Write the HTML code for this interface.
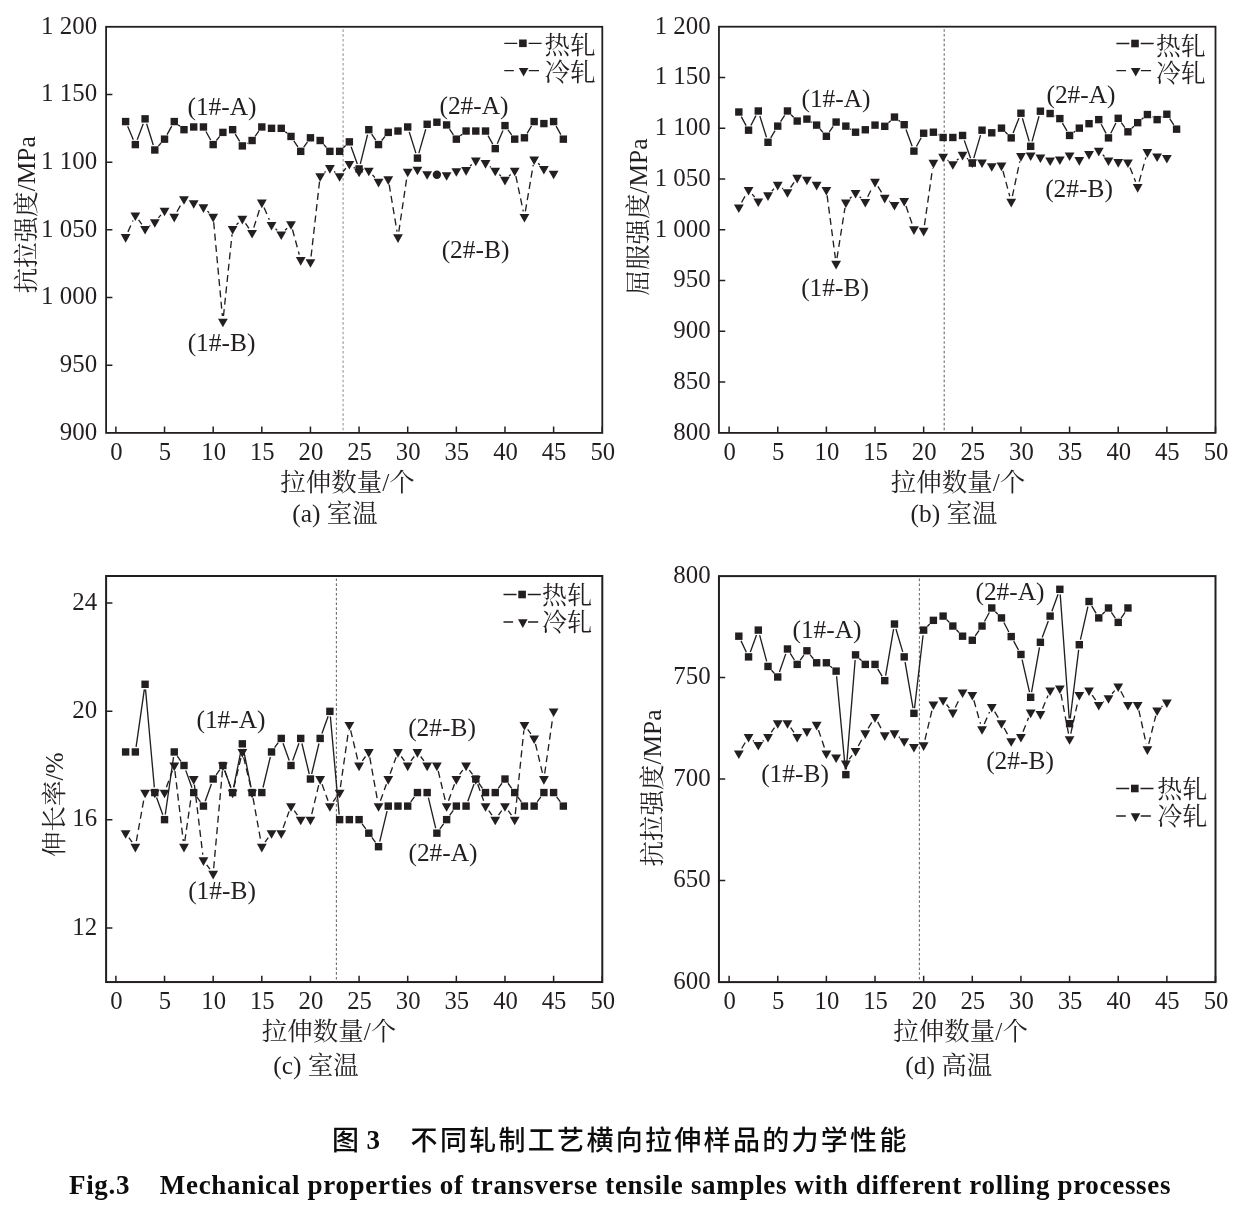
<!DOCTYPE html>
<html lang="zh">
<head>
<meta charset="utf-8">
<title>图 3 不同轧制工艺横向拉伸样品的力学性能</title>
<style>html,body{margin:0;padding:0;background:#fff}svg{display:block;will-change:transform}</style>
</head>
<body>
<svg width="1238" height="1208" viewBox="0 0 1238 1208" font-family='"Liberation Serif", "Noto Serif CJK SC", serif' fill="#231f20">
<line x1="343.1" y1="29.3" x2="343.1" y2="431.9" stroke="#999" stroke-width="1.1" stroke-dasharray="2.6 2.2"/>
<rect x="106.1" y="26.8" width="496.2" height="406.1" fill="none" stroke="#231f20" stroke-width="1.8"/>
<path d="M115.9 432.9v-6.3M164.54 432.9v-6.3M213.17 432.9v-6.3M261.81 432.9v-6.3M310.44 432.9v-6.3M359.08 432.9v-6.3M407.71 432.9v-6.3M456.35 432.9v-6.3M504.98 432.9v-6.3M553.62 432.9v-6.3M602.25 432.9v-6.3M106.1 365.22h6.3M106.1 297.53h6.3M106.1 229.85h6.3M106.1 162.17h6.3M106.1 94.48h6.3" fill="none" stroke="#231f20" stroke-width="1.5"/>
<text x="116.4" y="460.1" font-size="24.7" text-anchor="middle">0</text>
<text x="165.04" y="460.1" font-size="24.7" text-anchor="middle">5</text>
<text x="213.67" y="460.1" font-size="24.7" text-anchor="middle">10</text>
<text x="262.31" y="460.1" font-size="24.7" text-anchor="middle">15</text>
<text x="310.94" y="460.1" font-size="24.7" text-anchor="middle">20</text>
<text x="359.58" y="460.1" font-size="24.7" text-anchor="middle">25</text>
<text x="408.21" y="460.1" font-size="24.7" text-anchor="middle">30</text>
<text x="456.85" y="460.1" font-size="24.7" text-anchor="middle">35</text>
<text x="505.48" y="460.1" font-size="24.7" text-anchor="middle">40</text>
<text x="554.12" y="460.1" font-size="24.7" text-anchor="middle">45</text>
<text x="602.75" y="460.1" font-size="24.7" text-anchor="middle">50</text>
<text x="97.1" y="372.02" font-size="24.9" text-anchor="end">950</text>
<text x="97.1" y="304.33" font-size="24.9" text-anchor="end">1 000</text>
<text x="97.1" y="236.65" font-size="24.9" text-anchor="end">1 050</text>
<text x="97.1" y="168.97" font-size="24.9" text-anchor="end">1 100</text>
<text x="97.1" y="101.28" font-size="24.9" text-anchor="end">1 150</text>
<path d="M127.92 231.88L133.06 220.43M138.62 219.87L141.81 224.31M149.68 225.66L150.21 225.29M158.42 217.82L160.92 214.86M176.97 211.78L181.28 203.98M207.45 211.11L209.16 212.77M213.69 222.25L222.38 316.01M223.48 316.02L232.04 234.43M236.5 224.82L238.48 222.75M245.51 223.33L248.92 228.3M253.78 227.59L260.1 207.8M264.04 207.6L269.3 219.67M275.54 228.71L277.25 230.37M285.13 230.23L287.11 228.17M292.45 229.53L299.25 254.59M311.07 256.46L319.54 181.63M324.47 172.48L325.6 171.54M334.19 171.54L335.32 172.48M343.12 171.69L345.85 168.26M353.74 167.37L354.69 168.12M372.49 174.87L374.84 177.54M389.18 184.71L397.06 231.73M398.8 231.72L406.89 177.14M470.08 166.07L471.79 164.41M489.91 166.42L490.87 167.17M499.35 174.47L500.88 175.9M509.08 175.9L510.61 174.47M515.86 176.13L523.28 211.33M525.37 211.29L533.23 164.94M538.17 163.33L539.88 164.99" fill="none" stroke="#231f20" stroke-width="1.35" stroke-dasharray="7 4.4"/>
<path d="M127.65 126.35L133.33 139.78M137.19 139.71L143.24 123.71M146.63 123.81L153.26 145.02M158.28 146.12L161.06 143.02M167.05 134.6L171.75 126.11M178.25 124.89L180 126.35M205.96 131.52L210.65 140.02M216.41 140.51L219.65 136.45M235.3 134.14L239.68 141.46M246.89 143.39L247.53 143.04M255.11 136.29L258.77 131.19M285.25 131.66L286.99 133.11M293.83 140.8L297.87 146.98M303.75 147.11L307.41 142.02M323.64 144.38L326.42 147.47M343.35 147.71L345.62 145.49M351.11 146.76L357.32 164.04M360.33 163.89L367.55 134.73M371.65 134.03L375.69 140.22M381.77 140.51L385.01 136.45M409.26 131.93L415.89 153.14M418.87 153.11L425.73 129.26M449.55 129.23L453.41 134.86M460.34 135.82L462.08 134.37M488.04 135.58L492.74 144.08M497.28 143.84L502.96 130.41M508.01 129.84L511.67 134.93M527.11 133.34L531.49 126.02M556.13 126.11L560.83 134.6" fill="none" stroke="#231f20" stroke-width="1.35"/>
<g fill="#231f20">
<path d="M120.73 234.08L130.53 234.08L125.63 242.68Z"/>
<path d="M130.45 212.43L140.25 212.43L135.35 221.03Z"/>
<path d="M140.18 225.96L149.98 225.96L145.08 234.56Z"/>
<path d="M149.91 219.19L159.71 219.19L154.81 227.79Z"/>
<path d="M159.64 207.69L169.44 207.69L164.54 216.29Z"/>
<path d="M169.36 213.78L179.16 213.78L174.26 222.38Z"/>
<path d="M179.09 196.18L188.89 196.18L183.99 204.78Z"/>
<path d="M188.82 200.24L198.62 200.24L193.72 208.84Z"/>
<path d="M198.54 204.3L208.34 204.3L203.44 212.9Z"/>
<path d="M208.27 213.78L218.07 213.78L213.17 222.38Z"/>
<path d="M218 318.69L227.8 318.69L222.9 327.29Z"/>
<path d="M227.72 225.96L237.52 225.96L232.62 234.56Z"/>
<path d="M237.45 215.81L247.25 215.81L242.35 224.41Z"/>
<path d="M247.18 230.02L256.98 230.02L252.08 238.62Z"/>
<path d="M256.91 199.57L266.7 199.57L261.81 208.17Z"/>
<path d="M266.63 221.9L276.43 221.9L271.53 230.5Z"/>
<path d="M276.36 231.38L286.16 231.38L281.26 239.98Z"/>
<path d="M286.09 221.22L295.89 221.22L290.99 229.82Z"/>
<path d="M295.81 257.1L305.61 257.1L300.71 265.7Z"/>
<path d="M305.54 259.13L315.34 259.13L310.44 267.73Z"/>
<path d="M315.27 173.17L325.07 173.17L320.17 181.77Z"/>
<path d="M324.99 165.05L334.79 165.05L329.89 173.65Z"/>
<path d="M334.72 173.17L344.52 173.17L339.62 181.77Z"/>
<path d="M344.45 160.99L354.25 160.99L349.35 169.59Z"/>
<path d="M354.18 168.7L363.98 168.7L359.08 177.3Z"/>
<path d="M363.9 167.75L373.7 167.75L368.8 176.35Z"/>
<path d="M373.63 178.85L383.43 178.85L378.53 187.45Z"/>
<path d="M383.36 176.28L393.16 176.28L388.26 184.88Z"/>
<path d="M393.08 234.35L402.88 234.35L397.98 242.95Z"/>
<path d="M402.81 168.7L412.61 168.7L407.71 177.3Z"/>
<path d="M412.54 166.67L422.34 166.67L417.44 175.27Z"/>
<path d="M422.26 171.14L432.06 171.14L427.16 179.74Z"/>
<circle cx="436.89" cy="174.72" r="4.2"/>
<path d="M441.72 172.22L451.52 172.22L446.62 180.82Z"/>
<path d="M451.45 168.16L461.25 168.16L456.35 176.76Z"/>
<path d="M461.17 167.08L470.97 167.08L466.07 175.68Z"/>
<path d="M470.9 157.6L480.7 157.6L475.8 166.2Z"/>
<path d="M480.63 160.04L490.43 160.04L485.53 168.64Z"/>
<path d="M490.35 167.75L500.15 167.75L495.25 176.35Z"/>
<path d="M500.08 176.82L509.88 176.82L504.98 185.42Z"/>
<path d="M509.81 167.75L519.61 167.75L514.71 176.35Z"/>
<path d="M519.53 213.91L529.33 213.91L524.43 222.51Z"/>
<path d="M529.26 156.52L539.06 156.52L534.16 165.12Z"/>
<path d="M538.99 165.99L548.79 165.99L543.89 174.59Z"/>
<path d="M548.72 170.73L558.51 170.73L553.62 179.33Z"/>
<rect x="121.93" y="117.86" width="7.4" height="7.4"/>
<rect x="131.65" y="140.87" width="7.4" height="7.4"/>
<rect x="141.38" y="115.15" width="7.4" height="7.4"/>
<rect x="151.11" y="146.28" width="7.4" height="7.4"/>
<rect x="160.84" y="135.45" width="7.4" height="7.4"/>
<rect x="170.56" y="117.86" width="7.4" height="7.4"/>
<rect x="180.29" y="125.98" width="7.4" height="7.4"/>
<rect x="190.02" y="123.27" width="7.4" height="7.4"/>
<rect x="199.74" y="123.27" width="7.4" height="7.4"/>
<rect x="209.47" y="140.87" width="7.4" height="7.4"/>
<rect x="219.2" y="128.69" width="7.4" height="7.4"/>
<rect x="228.92" y="125.98" width="7.4" height="7.4"/>
<rect x="238.65" y="142.22" width="7.4" height="7.4"/>
<rect x="248.38" y="136.81" width="7.4" height="7.4"/>
<rect x="258.11" y="123.27" width="7.4" height="7.4"/>
<rect x="267.83" y="124.62" width="7.4" height="7.4"/>
<rect x="277.56" y="124.62" width="7.4" height="7.4"/>
<rect x="287.29" y="132.75" width="7.4" height="7.4"/>
<rect x="297.01" y="147.64" width="7.4" height="7.4"/>
<rect x="306.74" y="134.1" width="7.4" height="7.4"/>
<rect x="316.47" y="136.81" width="7.4" height="7.4"/>
<rect x="326.19" y="147.64" width="7.4" height="7.4"/>
<rect x="335.92" y="147.64" width="7.4" height="7.4"/>
<rect x="345.65" y="138.16" width="7.4" height="7.4"/>
<rect x="355.38" y="165.24" width="7.4" height="7.4"/>
<rect x="365.1" y="125.98" width="7.4" height="7.4"/>
<rect x="374.83" y="140.87" width="7.4" height="7.4"/>
<rect x="384.56" y="128.69" width="7.4" height="7.4"/>
<rect x="394.28" y="127.33" width="7.4" height="7.4"/>
<rect x="404.01" y="123.27" width="7.4" height="7.4"/>
<rect x="413.74" y="154.41" width="7.4" height="7.4"/>
<rect x="423.46" y="120.56" width="7.4" height="7.4"/>
<rect x="433.19" y="118.53" width="7.4" height="7.4"/>
<rect x="442.92" y="121.24" width="7.4" height="7.4"/>
<rect x="452.65" y="135.45" width="7.4" height="7.4"/>
<rect x="462.37" y="127.33" width="7.4" height="7.4"/>
<rect x="472.1" y="127.33" width="7.4" height="7.4"/>
<rect x="481.83" y="127.33" width="7.4" height="7.4"/>
<rect x="491.55" y="144.93" width="7.4" height="7.4"/>
<rect x="501.28" y="121.92" width="7.4" height="7.4"/>
<rect x="511.01" y="135.45" width="7.4" height="7.4"/>
<rect x="520.73" y="134.1" width="7.4" height="7.4"/>
<rect x="530.46" y="117.86" width="7.4" height="7.4"/>
<rect x="540.19" y="119.89" width="7.4" height="7.4"/>
<rect x="549.91" y="117.86" width="7.4" height="7.4"/>
<rect x="559.64" y="135.45" width="7.4" height="7.4"/>
</g>
<text x="97.1" y="439.7" font-size="24.9" text-anchor="end">900</text>
<text x="97.1" y="33.6" font-size="24.9" text-anchor="end">1 200</text>
<text x="222" y="115" font-size="25.4" text-anchor="middle">(1#-A)</text>
<text x="474" y="114" font-size="25.4" text-anchor="middle">(2#-A)</text>
<text x="475.5" y="257.6" font-size="25.4" text-anchor="middle">(2#-B)</text>
<text x="221.5" y="351" font-size="25.4" text-anchor="middle">(1#-B)</text>
<path d="M504.3 43.3h13M528.6 43.3h13" stroke="#231f20" stroke-width="1.3" fill="none"/>
<g fill="#231f20">
<rect x="519.1" y="39.5" width="7.6" height="7.6"/>
<path d="M518.8 67.9L528.4 67.9L523.6 76.5Z"/>
</g>
<path d="M504.3 70.6h9.6M528.8 70.6h10.2" stroke="#231f20" stroke-width="1.3" fill="none"/>
<text x="544.6" y="53.5" font-size="25.5" text-anchor="start">热轧</text>
<text x="544.6" y="80.5" font-size="25.5" text-anchor="start">冷轧</text>
<text x="347.5" y="490.6" font-size="25.4" text-anchor="middle"><tspan font-size="25.5">拉伸数量</tspan>/<tspan font-size="25.5">个</tspan></text>
<text x="335" y="522.3" font-size="25.4" text-anchor="middle">(a) <tspan font-size="25.5">室温</tspan></text>
<text transform="translate(35.3 214.8) rotate(-90)" font-size="25.4" text-anchor="middle"><tspan font-size="25.5">抗拉强度</tspan>/MPa</text>
<line x1="944.2" y1="29.2" x2="944.2" y2="431.9" stroke="#6e6e6e" stroke-width="1.1" stroke-dasharray="2.6 2.2"/>
<rect x="718.95" y="26.7" width="496.55" height="406.2" fill="none" stroke="#231f20" stroke-width="1.8"/>
<path d="M729.1 432.9v-6.3M777.74 432.9v-6.3M826.38 432.9v-6.3M875.02 432.9v-6.3M923.66 432.9v-6.3M972.3 432.9v-6.3M1020.94 432.9v-6.3M1069.58 432.9v-6.3M1118.22 432.9v-6.3M1166.86 432.9v-6.3M1215.5 432.9v-6.3M718.95 382.12h6.3M718.95 331.35h6.3M718.95 280.57h6.3M718.95 229.8h6.3M718.95 179.02h6.3M718.95 128.25h6.3M718.95 77.47h6.3" fill="none" stroke="#231f20" stroke-width="1.5"/>
<text x="729.6" y="460.1" font-size="24.7" text-anchor="middle">0</text>
<text x="778.24" y="460.1" font-size="24.7" text-anchor="middle">5</text>
<text x="826.88" y="460.1" font-size="24.7" text-anchor="middle">10</text>
<text x="875.52" y="460.1" font-size="24.7" text-anchor="middle">15</text>
<text x="924.16" y="460.1" font-size="24.7" text-anchor="middle">20</text>
<text x="972.8" y="460.1" font-size="24.7" text-anchor="middle">25</text>
<text x="1021.44" y="460.1" font-size="24.7" text-anchor="middle">30</text>
<text x="1070.08" y="460.1" font-size="24.7" text-anchor="middle">35</text>
<text x="1118.72" y="460.1" font-size="24.7" text-anchor="middle">40</text>
<text x="1167.36" y="460.1" font-size="24.7" text-anchor="middle">45</text>
<text x="1216" y="460.1" font-size="24.7" text-anchor="middle">50</text>
<text x="710.65" y="388.93" font-size="24.9" text-anchor="end">850</text>
<text x="710.65" y="338.15" font-size="24.9" text-anchor="end">900</text>
<text x="710.65" y="287.37" font-size="24.9" text-anchor="end">950</text>
<text x="710.65" y="236.6" font-size="24.9" text-anchor="end">1 000</text>
<text x="710.65" y="185.82" font-size="24.9" text-anchor="end">1 050</text>
<text x="710.65" y="135.05" font-size="24.9" text-anchor="end">1 100</text>
<text x="710.65" y="84.27" font-size="24.9" text-anchor="end">1 150</text>
<path d="M741.54 202.48L745.84 194.71M752.18 194.08L754.66 197.01M771.83 191.09L773.93 188.83M782.19 188.13L783.01 188.75M790.6 187.5L794.06 182.37M827.11 195.36L835.38 258.19M836.98 258.21L844.96 207.83M849.85 198.4L851.55 196.76M859.69 196.64L861.17 198M867.73 196.75L872.58 186.73M877.92 186.47L881.84 192.94M889.27 201.03L889.95 201.54M906.02 206.08L912.12 223.91M924.45 225.19L932.6 168.24M947.55 160.03L948.41 160.69M956.88 160.24L958.53 158.65M966.98 158.23L967.89 158.94M1002.94 170.85L1009.76 196.28M1012.38 196.21L1019.77 161.47M1102.74 154.66L1104.52 156.42M1130.01 167.6L1135.61 181.76M1139.17 181.57L1145.91 157.33" fill="none" stroke="#231f20" stroke-width="1.35" stroke-dasharray="7 4.4"/>
<path d="M741.28 116.59L746.1 125.59M750.91 125.54L755.93 115.62M759.83 115.95L766.47 137.3M770.7 137.81L775.06 130.57M780.55 121.74L784.66 115.36M791.08 114.72L793.58 117.3M811.35 121.84L812.22 122.37M820.07 129.02L822.96 132.35M829.32 131.98L833.17 126.35M850.24 128.88L851.16 129.45M888.52 122.74L890.71 120.66M898.57 120.29L900.11 121.49M906 129.58L912.13 146.22M916.42 146.53L921.17 137.79M937.96 134.69L938.55 135.01M964.3 140.36L970.57 158.18M973.77 158.1L980.55 135.17M1005.16 131.83L1007.54 134.22M1013.12 133.06L1019.03 118.06M1022.41 118.21L1029.2 141.34M1032.06 141.31L1039.01 116.2M1054.73 115.93L1055.24 116.2M1062.45 123.11L1066.98 130.96M1073.74 132.34L1075.15 131.27M1101.21 124.21L1106.05 133.31M1110.8 133.24L1115.91 122.96M1121.26 122.52L1124.91 127.58M1131.74 128.24L1133.89 126.23M1141.67 119.33L1143.41 117.87M1152.01 116.95L1152.52 117.21M1161.68 117.1L1162.31 116.75M1169.7 118.59L1173.75 124.81" fill="none" stroke="#231f20" stroke-width="1.35"/>
<g fill="#231f20">
<path d="M733.93 204.48L743.73 204.48L738.83 213.08Z"/>
<path d="M743.66 186.91L753.46 186.91L748.56 195.51Z"/>
<path d="M753.38 198.38L763.18 198.38L758.28 206.98Z"/>
<path d="M763.11 192.29L772.91 192.29L768.01 200.89Z"/>
<path d="M772.84 181.83L782.64 181.83L777.74 190.43Z"/>
<path d="M782.57 189.25L792.37 189.25L787.47 197.85Z"/>
<path d="M792.3 174.83L802.1 174.83L797.2 183.43Z"/>
<path d="M802.02 176.65L811.82 176.65L806.92 185.25Z"/>
<path d="M811.75 181.83L821.55 181.83L816.65 190.43Z"/>
<path d="M821.48 186.91L831.28 186.91L826.38 195.51Z"/>
<path d="M831.21 260.84L841.01 260.84L836.11 269.44Z"/>
<path d="M840.94 199.4L850.74 199.4L845.84 208Z"/>
<path d="M850.66 189.96L860.46 189.96L855.56 198.56Z"/>
<path d="M860.39 198.89L870.19 198.89L865.29 207.49Z"/>
<path d="M870.12 178.79L879.92 178.79L875.02 187.39Z"/>
<path d="M879.85 194.83L889.65 194.83L884.75 203.43Z"/>
<path d="M889.58 201.94L899.38 201.94L894.48 210.54Z"/>
<path d="M899.3 197.88L909.1 197.88L904.2 206.48Z"/>
<path d="M909.03 226.31L918.83 226.31L913.93 234.91Z"/>
<path d="M918.76 227.83L928.56 227.83L923.66 236.43Z"/>
<path d="M928.49 159.8L938.29 159.8L933.39 168.4Z"/>
<path d="M938.22 153.7L948.02 153.7L943.12 162.3Z"/>
<path d="M947.94 161.22L957.74 161.22L952.84 169.82Z"/>
<path d="M957.67 151.87L967.47 151.87L962.57 160.47Z"/>
<path d="M967.4 159.49L977.2 159.49L972.3 168.09Z"/>
<path d="M977.13 159.49L986.93 159.49L982.03 168.09Z"/>
<path d="M986.86 163.15L996.66 163.15L991.76 171.75Z"/>
<path d="M996.58 162.54L1006.38 162.54L1001.48 171.14Z"/>
<path d="M1006.31 198.79L1016.11 198.79L1011.21 207.39Z"/>
<path d="M1016.04 153.09L1025.84 153.09L1020.94 161.69Z"/>
<path d="M1025.77 152.48L1035.57 152.48L1030.67 161.08Z"/>
<path d="M1035.5 154.41L1045.3 154.41L1040.4 163.01Z"/>
<path d="M1045.22 157.46L1055.02 157.46L1050.12 166.06Z"/>
<path d="M1054.95 156.44L1064.75 156.44L1059.85 165.04Z"/>
<path d="M1064.68 152.48L1074.48 152.48L1069.58 161.08Z"/>
<path d="M1074.41 157.05L1084.21 157.05L1079.31 165.65Z"/>
<path d="M1084.14 151.06L1093.94 151.06L1089.04 159.66Z"/>
<path d="M1093.86 147.81L1103.66 147.81L1098.76 156.41Z"/>
<path d="M1103.59 157.46L1113.39 157.46L1108.49 166.06Z"/>
<path d="M1113.32 159.08L1123.12 159.08L1118.22 167.68Z"/>
<path d="M1123.05 159.49L1132.85 159.49L1127.95 168.09Z"/>
<path d="M1132.78 184.07L1142.58 184.07L1137.68 192.67Z"/>
<path d="M1142.5 149.03L1152.3 149.03L1147.4 157.63Z"/>
<path d="M1152.23 153.5L1162.03 153.5L1157.13 162.1Z"/>
<path d="M1161.96 155.02L1171.76 155.02L1166.86 163.62Z"/>
<rect x="735.13" y="108.3" width="7.4" height="7.4"/>
<rect x="744.86" y="126.48" width="7.4" height="7.4"/>
<rect x="754.58" y="107.29" width="7.4" height="7.4"/>
<rect x="764.31" y="138.56" width="7.4" height="7.4"/>
<rect x="774.04" y="122.42" width="7.4" height="7.4"/>
<rect x="783.77" y="107.29" width="7.4" height="7.4"/>
<rect x="793.5" y="117.34" width="7.4" height="7.4"/>
<rect x="803.22" y="115.41" width="7.4" height="7.4"/>
<rect x="812.95" y="121.4" width="7.4" height="7.4"/>
<rect x="822.68" y="132.57" width="7.4" height="7.4"/>
<rect x="832.41" y="118.36" width="7.4" height="7.4"/>
<rect x="842.14" y="122.42" width="7.4" height="7.4"/>
<rect x="851.86" y="128.51" width="7.4" height="7.4"/>
<rect x="861.59" y="126.07" width="7.4" height="7.4"/>
<rect x="871.32" y="121.4" width="7.4" height="7.4"/>
<rect x="881.05" y="122.62" width="7.4" height="7.4"/>
<rect x="890.78" y="113.38" width="7.4" height="7.4"/>
<rect x="900.5" y="121" width="7.4" height="7.4"/>
<rect x="910.23" y="147.4" width="7.4" height="7.4"/>
<rect x="919.96" y="129.53" width="7.4" height="7.4"/>
<rect x="929.69" y="128.51" width="7.4" height="7.4"/>
<rect x="939.42" y="133.79" width="7.4" height="7.4"/>
<rect x="949.14" y="133.79" width="7.4" height="7.4"/>
<rect x="958.87" y="131.76" width="7.4" height="7.4"/>
<rect x="968.6" y="159.38" width="7.4" height="7.4"/>
<rect x="978.33" y="126.48" width="7.4" height="7.4"/>
<rect x="988.06" y="129.12" width="7.4" height="7.4"/>
<rect x="997.78" y="124.45" width="7.4" height="7.4"/>
<rect x="1007.51" y="134.2" width="7.4" height="7.4"/>
<rect x="1017.24" y="109.52" width="7.4" height="7.4"/>
<rect x="1026.97" y="142.63" width="7.4" height="7.4"/>
<rect x="1036.7" y="107.49" width="7.4" height="7.4"/>
<rect x="1046.42" y="109.83" width="7.4" height="7.4"/>
<rect x="1056.15" y="114.9" width="7.4" height="7.4"/>
<rect x="1065.88" y="131.76" width="7.4" height="7.4"/>
<rect x="1075.61" y="124.45" width="7.4" height="7.4"/>
<rect x="1085.34" y="119.98" width="7.4" height="7.4"/>
<rect x="1095.06" y="115.92" width="7.4" height="7.4"/>
<rect x="1104.79" y="134.2" width="7.4" height="7.4"/>
<rect x="1114.52" y="114.6" width="7.4" height="7.4"/>
<rect x="1124.25" y="128.1" width="7.4" height="7.4"/>
<rect x="1133.98" y="118.96" width="7.4" height="7.4"/>
<rect x="1143.7" y="110.84" width="7.4" height="7.4"/>
<rect x="1153.43" y="115.92" width="7.4" height="7.4"/>
<rect x="1163.16" y="110.54" width="7.4" height="7.4"/>
<rect x="1172.89" y="125.46" width="7.4" height="7.4"/>
</g>
<text x="710.65" y="439.7" font-size="24.9" text-anchor="end">800</text>
<text x="710.65" y="33.5" font-size="24.9" text-anchor="end">1 200</text>
<text x="836" y="107" font-size="25.4" text-anchor="middle">(1#-A)</text>
<text x="1081" y="103" font-size="25.4" text-anchor="middle">(2#-A)</text>
<text x="1079" y="197" font-size="25.4" text-anchor="middle">(2#-B)</text>
<text x="835" y="296" font-size="25.4" text-anchor="middle">(1#-B)</text>
<path d="M1116.4 43.5h13M1140.7 43.5h13" stroke="#231f20" stroke-width="1.3" fill="none"/>
<g fill="#231f20">
<rect x="1131.2" y="39.7" width="7.6" height="7.6"/>
<path d="M1130.9 67.9L1140.5 67.9L1135.7 76.5Z"/>
</g>
<path d="M1116.4 70.6h9.6M1140.9 70.6h10.2" stroke="#231f20" stroke-width="1.3" fill="none"/>
<text x="1155.9" y="54.75" font-size="24.8" text-anchor="start">热轧</text>
<text x="1155.9" y="81.55" font-size="24.8" text-anchor="start">冷轧</text>
<text x="958" y="490.6" font-size="25.4" text-anchor="middle"><tspan font-size="25.5">拉伸数量</tspan>/<tspan font-size="25.5">个</tspan></text>
<text x="954" y="522.3" font-size="25.4" text-anchor="middle">(b) <tspan font-size="25.5">室温</tspan></text>
<text transform="translate(646.8 217) rotate(-90)" font-size="25.4" text-anchor="middle"><tspan font-size="25.5">屈服强度</tspan>/MPa</text>
<line x1="336.4" y1="578.5" x2="336.4" y2="981.05" stroke="#6e6e6e" stroke-width="1.1" stroke-dasharray="2.6 2.2"/>
<rect x="106.1" y="576" width="496.2" height="406.05" fill="none" stroke="#231f20" stroke-width="2"/>
<path d="M115.9 982.05v-6.3M164.54 982.05v-6.3M213.17 982.05v-6.3M261.81 982.05v-6.3M310.44 982.05v-6.3M359.08 982.05v-6.3M407.71 982.05v-6.3M456.35 982.05v-6.3M504.98 982.05v-6.3M553.62 982.05v-6.3M602.25 982.05v-6.3M106.1 927.91h6.3M106.1 819.63h6.3M106.1 711.35h6.3M106.1 603.07h6.3" fill="none" stroke="#231f20" stroke-width="1.5"/>
<text x="116.4" y="1009.25" font-size="24.7" text-anchor="middle">0</text>
<text x="165.04" y="1009.25" font-size="24.7" text-anchor="middle">5</text>
<text x="213.67" y="1009.25" font-size="24.7" text-anchor="middle">10</text>
<text x="262.31" y="1009.25" font-size="24.7" text-anchor="middle">15</text>
<text x="310.94" y="1009.25" font-size="24.7" text-anchor="middle">20</text>
<text x="359.58" y="1009.25" font-size="24.7" text-anchor="middle">25</text>
<text x="408.21" y="1009.25" font-size="24.7" text-anchor="middle">30</text>
<text x="456.85" y="1009.25" font-size="24.7" text-anchor="middle">35</text>
<text x="505.48" y="1009.25" font-size="24.7" text-anchor="middle">40</text>
<text x="554.12" y="1009.25" font-size="24.7" text-anchor="middle">45</text>
<text x="602.75" y="1009.25" font-size="24.7" text-anchor="middle">50</text>
<text x="97.1" y="934.71" font-size="24.9" text-anchor="end">12</text>
<text x="97.1" y="826.43" font-size="24.9" text-anchor="end">16</text>
<text x="97.1" y="718.15" font-size="24.9" text-anchor="end">20</text>
<text x="97.1" y="609.87" font-size="24.9" text-anchor="end">24</text>
<path d="M128.9 837.71L132.09 842.15M136.34 841.19L144.09 798.07M166.43 787.29L172.37 770.76M174.93 771.05L183.32 841.14M184.79 841.16L192.92 784.57M194.38 784.59L202.78 854.67M206.71 864.78L209.9 869.22M213.67 868.19L222.4 771.07M224.79 770.76L230.73 787.29M233.93 787.11L241.05 757.4M243.66 757.4L250.77 787.11M253.07 798.07L260.81 841.19M265.07 842.15L268.26 837.71M283.15 827.89L289.09 811.37M294.25 810.64L297.44 815.08M311.74 814.18L318.86 784.47M322.06 784.3L328 800.82M333.16 801.55L336.35 797.11M340.42 787.02L348.55 730.43M350.65 730.33L357.77 760.04M362.34 760.94L365.53 756.5M369.79 757.47L377.54 800.58M380.42 800.82L386.36 784.3M390.15 773.75L396.09 757.23M401.25 756.5L404.44 760.94M410.98 760.94L414.17 756.5M420.71 756.5L423.9 760.94M438.2 770.94L445.31 800.65M448.51 800.82L454.45 784.3M459.61 774.48L462.8 770.04M469.34 770.04L472.53 774.48M477.69 784.3L483.63 800.82M488.79 810.64L491.98 815.08M498.52 815.08L501.71 810.64M508.25 810.64L511.44 815.08M515.28 814.06L523.86 730.46M527.7 729.43L530.89 733.87M535.47 743.87L542.58 773.58M544.68 773.48L552.82 716.89" fill="none" stroke="#231f20" stroke-width="1.35" stroke-dasharray="7 4.4"/>
<path d="M136.09 746.81L144.34 689.43M145.55 689.46L154.34 787.38M156.57 797.45L162.78 814.74M165.27 814.48L173.52 757.1M177.3 756.18L180.95 761.27M185.75 770.38L191.96 787.67M196.75 796.78L200.41 801.87M205.2 801.2L211.41 783.92M216.2 774.8L219.86 769.71M224.66 770.38L230.87 787.67M233.64 787.46L241.33 748.93M243.37 748.93L251.06 787.46M263.02 787.5L270.32 757.01M274.57 747.73L278.22 742.64M283.02 743.31L289.23 760.6M292.74 760.6L298.95 743.31M301.92 743.48L309.23 773.97M311.65 773.97L318.96 743.48M321.93 733.53L328.14 716.24M330.36 716.53L339.16 814.45M362.11 823.85L365.77 828.94M371.84 837.39L375.49 842.48M379.74 841.64L387.04 811.15M410.74 801.87L414.4 796.78M428.38 797.62L435.68 828.11M439.93 828.94L443.58 823.85M449.65 815.41L453.31 810.32M467.83 801.2L474.04 783.92M478.83 783.25L482.49 788.34M498.29 788.34L501.95 783.25M508.01 783.25L511.67 788.34M517.74 796.78L521.4 801.87M537.2 801.87L540.85 796.78M556.65 796.78L560.31 801.87" fill="none" stroke="#231f20" stroke-width="1.35"/>
<g fill="#231f20">
<path d="M120.73 830.26L130.53 830.26L125.63 838.86Z"/>
<path d="M130.45 843.8L140.25 843.8L135.35 852.4Z"/>
<path d="M140.18 789.66L149.98 789.66L145.08 798.26Z"/>
<path d="M149.91 789.66L159.71 789.66L154.81 798.26Z"/>
<path d="M159.64 789.66L169.44 789.66L164.54 798.26Z"/>
<path d="M169.36 762.59L179.16 762.59L174.26 771.19Z"/>
<path d="M179.09 843.8L188.89 843.8L183.99 852.4Z"/>
<path d="M188.82 776.12L198.62 776.12L193.72 784.72Z"/>
<path d="M198.54 857.34L208.34 857.34L203.44 865.93Z"/>
<path d="M208.27 870.87L218.07 870.87L213.17 879.47Z"/>
<path d="M218 762.59L227.8 762.59L222.9 771.19Z"/>
<path d="M227.72 789.66L237.52 789.66L232.62 798.26Z"/>
<path d="M237.45 749.05L247.25 749.05L242.35 757.65Z"/>
<path d="M247.18 789.66L256.98 789.66L252.08 798.26Z"/>
<path d="M256.91 843.8L266.7 843.8L261.81 852.4Z"/>
<path d="M266.63 830.26L276.43 830.26L271.53 838.86Z"/>
<path d="M276.36 830.26L286.16 830.26L281.26 838.86Z"/>
<path d="M286.09 803.2L295.89 803.2L290.99 811.79Z"/>
<path d="M295.81 816.73L305.61 816.73L300.71 825.33Z"/>
<path d="M305.54 816.73L315.34 816.73L310.44 825.33Z"/>
<path d="M315.27 776.12L325.07 776.12L320.17 784.72Z"/>
<path d="M324.99 803.2L334.79 803.2L329.89 811.79Z"/>
<path d="M334.72 789.66L344.52 789.66L339.62 798.26Z"/>
<path d="M344.45 721.99L354.25 721.99L349.35 730.58Z"/>
<path d="M354.18 762.59L363.98 762.59L359.08 771.19Z"/>
<path d="M363.9 749.05L373.7 749.05L368.8 757.65Z"/>
<path d="M373.63 803.2L383.43 803.2L378.53 811.79Z"/>
<path d="M383.36 776.12L393.16 776.12L388.26 784.72Z"/>
<path d="M393.08 749.05L402.88 749.05L397.98 757.65Z"/>
<path d="M402.81 762.59L412.61 762.59L407.71 771.19Z"/>
<path d="M412.54 749.05L422.34 749.05L417.44 757.65Z"/>
<path d="M422.26 762.59L432.06 762.59L427.16 771.19Z"/>
<path d="M431.99 762.59L441.79 762.59L436.89 771.19Z"/>
<path d="M441.72 803.2L451.52 803.2L446.62 811.79Z"/>
<path d="M451.45 776.12L461.25 776.12L456.35 784.72Z"/>
<path d="M461.17 762.59L470.97 762.59L466.07 771.19Z"/>
<path d="M470.9 776.12L480.7 776.12L475.8 784.72Z"/>
<path d="M480.63 803.2L490.43 803.2L485.53 811.79Z"/>
<path d="M490.35 816.73L500.15 816.73L495.25 825.33Z"/>
<path d="M500.08 803.2L509.88 803.2L504.98 811.79Z"/>
<path d="M509.81 816.73L519.61 816.73L514.71 825.33Z"/>
<path d="M519.53 721.99L529.33 721.99L524.43 730.58Z"/>
<path d="M529.26 735.52L539.06 735.52L534.16 744.12Z"/>
<path d="M538.99 776.12L548.79 776.12L543.89 784.72Z"/>
<path d="M548.72 708.45L558.51 708.45L553.62 717.05Z"/>
<rect x="121.93" y="748.25" width="7.4" height="7.4"/>
<rect x="131.65" y="748.25" width="7.4" height="7.4"/>
<rect x="141.38" y="680.58" width="7.4" height="7.4"/>
<rect x="151.11" y="788.86" width="7.4" height="7.4"/>
<rect x="160.84" y="815.93" width="7.4" height="7.4"/>
<rect x="170.56" y="748.25" width="7.4" height="7.4"/>
<rect x="180.29" y="761.79" width="7.4" height="7.4"/>
<rect x="190.02" y="788.86" width="7.4" height="7.4"/>
<rect x="199.74" y="802.39" width="7.4" height="7.4"/>
<rect x="209.47" y="775.32" width="7.4" height="7.4"/>
<rect x="219.2" y="761.79" width="7.4" height="7.4"/>
<rect x="228.92" y="788.86" width="7.4" height="7.4"/>
<rect x="238.65" y="740.13" width="7.4" height="7.4"/>
<rect x="248.38" y="788.86" width="7.4" height="7.4"/>
<rect x="258.11" y="788.86" width="7.4" height="7.4"/>
<rect x="267.83" y="748.25" width="7.4" height="7.4"/>
<rect x="277.56" y="734.72" width="7.4" height="7.4"/>
<rect x="287.29" y="761.79" width="7.4" height="7.4"/>
<rect x="297.01" y="734.72" width="7.4" height="7.4"/>
<rect x="306.74" y="775.32" width="7.4" height="7.4"/>
<rect x="316.47" y="734.72" width="7.4" height="7.4"/>
<rect x="326.19" y="707.65" width="7.4" height="7.4"/>
<rect x="335.92" y="815.93" width="7.4" height="7.4"/>
<rect x="345.65" y="815.93" width="7.4" height="7.4"/>
<rect x="355.38" y="815.93" width="7.4" height="7.4"/>
<rect x="365.1" y="829.46" width="7.4" height="7.4"/>
<rect x="374.83" y="843" width="7.4" height="7.4"/>
<rect x="384.56" y="802.39" width="7.4" height="7.4"/>
<rect x="394.28" y="802.39" width="7.4" height="7.4"/>
<rect x="404.01" y="802.39" width="7.4" height="7.4"/>
<rect x="413.74" y="788.86" width="7.4" height="7.4"/>
<rect x="423.46" y="788.86" width="7.4" height="7.4"/>
<rect x="433.19" y="829.46" width="7.4" height="7.4"/>
<rect x="442.92" y="815.93" width="7.4" height="7.4"/>
<rect x="452.65" y="802.39" width="7.4" height="7.4"/>
<rect x="462.37" y="802.39" width="7.4" height="7.4"/>
<rect x="472.1" y="775.32" width="7.4" height="7.4"/>
<rect x="481.83" y="788.86" width="7.4" height="7.4"/>
<rect x="491.55" y="788.86" width="7.4" height="7.4"/>
<rect x="501.28" y="775.32" width="7.4" height="7.4"/>
<rect x="511.01" y="788.86" width="7.4" height="7.4"/>
<rect x="520.73" y="802.39" width="7.4" height="7.4"/>
<rect x="530.46" y="802.39" width="7.4" height="7.4"/>
<rect x="540.19" y="788.86" width="7.4" height="7.4"/>
<rect x="549.91" y="788.86" width="7.4" height="7.4"/>
<rect x="559.64" y="802.39" width="7.4" height="7.4"/>
</g>
<text x="231" y="727.5" font-size="25.4" text-anchor="middle">(1#-A)</text>
<text x="442" y="736" font-size="25.4" text-anchor="middle">(2#-B)</text>
<text x="443" y="861" font-size="25.4" text-anchor="middle">(2#-A)</text>
<text x="222" y="899" font-size="25.4" text-anchor="middle">(1#-B)</text>
<path d="M503.5 594.5h13M527.8 594.5h13" stroke="#231f20" stroke-width="1.3" fill="none"/>
<g fill="#231f20">
<rect x="518.3" y="590.7" width="7.6" height="7.6"/>
<path d="M518 619.3L527.6 619.3L522.8 627.9Z"/>
</g>
<path d="M503.5 622h9.6M528 622h10.2" stroke="#231f20" stroke-width="1.3" fill="none"/>
<text x="541.9" y="603.7" font-size="25" text-anchor="start">热轧</text>
<text x="541.9" y="630.9" font-size="25" text-anchor="start">冷轧</text>
<text x="329" y="1040.2" font-size="25.4" text-anchor="middle"><tspan font-size="25.5">拉伸数量</tspan>/<tspan font-size="25.5">个</tspan></text>
<text x="316" y="1074.3" font-size="25.4" text-anchor="middle">(c) <tspan font-size="25.5">室温</tspan></text>
<text transform="translate(62.6 804.6) rotate(-90)" font-size="25.4" text-anchor="middle"><tspan font-size="25.5">伸长率</tspan>/%</text>
<line x1="919.4" y1="578.6" x2="919.4" y2="981.1" stroke="#6e6e6e" stroke-width="1.1" stroke-dasharray="2.6 2.2"/>
<rect x="718.95" y="576.1" width="496.55" height="406" fill="none" stroke="#231f20" stroke-width="2"/>
<path d="M729.1 982.1v-6.3M777.74 982.1v-6.3M826.38 982.1v-6.3M875.02 982.1v-6.3M923.66 982.1v-6.3M972.3 982.1v-6.3M1020.94 982.1v-6.3M1069.58 982.1v-6.3M1118.22 982.1v-6.3M1166.86 982.1v-6.3M1215.5 982.1v-6.3M718.95 880.6h6.3M718.95 779.1h6.3M718.95 677.6h6.3" fill="none" stroke="#231f20" stroke-width="1.5"/>
<text x="729.6" y="1009.3" font-size="24.7" text-anchor="middle">0</text>
<text x="778.24" y="1009.3" font-size="24.7" text-anchor="middle">5</text>
<text x="826.88" y="1009.3" font-size="24.7" text-anchor="middle">10</text>
<text x="875.52" y="1009.3" font-size="24.7" text-anchor="middle">15</text>
<text x="924.16" y="1009.3" font-size="24.7" text-anchor="middle">20</text>
<text x="972.8" y="1009.3" font-size="24.7" text-anchor="middle">25</text>
<text x="1021.44" y="1009.3" font-size="24.7" text-anchor="middle">30</text>
<text x="1070.08" y="1009.3" font-size="24.7" text-anchor="middle">35</text>
<text x="1118.72" y="1009.3" font-size="24.7" text-anchor="middle">40</text>
<text x="1167.36" y="1009.3" font-size="24.7" text-anchor="middle">45</text>
<text x="1216" y="1009.3" font-size="24.7" text-anchor="middle">50</text>
<text x="710.65" y="887.4" font-size="24.9" text-anchor="end">650</text>
<text x="710.65" y="785.9" font-size="24.9" text-anchor="end">700</text>
<text x="710.65" y="684.4" font-size="24.9" text-anchor="end">750</text>
<path d="M741.68 748.5L745.7 741.7M752.9 740.41L753.94 741.26M762.63 741.26L763.67 740.41M771.24 732.3L774.51 727.65M790.69 727.65L793.97 732.3M818.45 730L824.58 748.02M849.26 759.04L852.14 755.31M858.27 745.98L862.59 738.13M868.17 728.42L872.14 721.79M877.65 721.92L882.12 730.31M898.82 736.76L899.86 737.6M924.96 739.75L932.09 709.84M946.58 704.54L949.38 708.11M955.28 707.48L960.13 697.46M973.83 700.24L980.5 723.77M984.26 724.03L989.52 711.97M994.63 711.64L998.61 718.27M1004.14 728L1008.56 736.21M1023.02 731.68L1028.59 717.72M1042.53 708.76L1047.99 695.56M1060.91 693.86L1068.53 733.61M1070.78 733.64L1078.11 700.32M1092.17 695.03L1095.63 700.16M1103.38 701.63L1103.88 701.28M1112.06 693.79L1114.65 690.65M1120.83 691.28L1125.34 699.85M1138.87 710.27L1146.21 743.79M1148.76 743.83L1155.78 715.72M1161.48 706.75L1162.52 705.9" fill="none" stroke="#231f20" stroke-width="1.35" stroke-dasharray="7 4.4"/>
<path d="M741.04 640.89L746.34 652.19M750.33 652.01L756.51 634.99M759.63 635.12L766.67 661.41M771.54 670.26L774.22 673.17M779.45 672.08L785.76 653.89M790.24 653.38L794.42 660.01M800.22 660.18L803.9 655.03M810.2 654.84L813.37 658.74M830.33 666.16L832.16 667.72M836.59 676.28L845.35 769.46M846.26 769.45L855.14 660.05M859.28 658.51L861.58 660.76M877.69 668.87L882.08 676.18M885.63 675.52L893.6 629.13M895.95 628.99L902.73 651.91M905.09 662.02L913.05 708.2M914.54 708.16L923.06 635.26M927.33 626.42L929.71 624.03M946.75 619.81L949.21 622.32M956.44 629.79L958.97 632.43M975.24 635.96L979.09 630.33M984.49 621.46L989.29 612.55M995.39 611.69L997.85 614.2M1003.89 622.53L1008.81 631.98M1013.7 641.16L1018.45 649.89M1022.09 659.53L1029.52 692.22M1031.57 692.17L1039.49 647.4M1042.21 637.4L1048.31 620.97M1051.9 611.2L1058.08 594.18M1060.23 594.48L1069.2 718.49M1070.22 718.52L1078.67 649.87M1080.45 639.64L1087.89 606.55M1091.68 605.95L1096.12 613.44M1102.4 614.2L1104.86 611.69M1111.4 612.28L1115.31 618.07M1121.13 618.07L1125.04 612.28" fill="none" stroke="#231f20" stroke-width="1.35"/>
<g fill="#231f20">
<path d="M733.93 750.42L743.73 750.42L738.83 759.02Z"/>
<path d="M743.66 733.98L753.46 733.98L748.56 742.58Z"/>
<path d="M753.38 741.89L763.18 741.89L758.28 750.49Z"/>
<path d="M763.11 733.98L772.91 733.98L768.01 742.58Z"/>
<path d="M772.84 720.17L782.64 720.17L777.74 728.77Z"/>
<path d="M782.57 720.17L792.37 720.17L787.47 728.77Z"/>
<path d="M792.3 733.98L802.1 733.98L797.2 742.58Z"/>
<path d="M802.02 728.29L811.82 728.29L806.92 736.89Z"/>
<path d="M811.75 721.8L821.55 721.8L816.65 730.4Z"/>
<path d="M821.48 750.42L831.28 750.42L826.38 759.02Z"/>
<path d="M831.21 754.48L841.01 754.48L836.11 763.08Z"/>
<path d="M840.94 760.57L850.74 760.57L845.84 769.17Z"/>
<path d="M850.66 747.98L860.46 747.98L855.56 756.58Z"/>
<path d="M860.39 730.32L870.19 730.32L865.29 738.92Z"/>
<path d="M870.12 714.08L879.92 714.08L875.02 722.68Z"/>
<path d="M879.85 732.35L889.65 732.35L884.75 740.95Z"/>
<path d="M889.58 730.32L899.38 730.32L894.48 738.92Z"/>
<path d="M899.3 738.24L909.1 738.24L904.2 746.84Z"/>
<path d="M909.03 743.92L918.83 743.92L913.93 752.52Z"/>
<path d="M918.76 742.3L928.56 742.3L923.66 750.9Z"/>
<path d="M928.49 701.5L938.29 701.5L933.39 710.1Z"/>
<path d="M938.22 697.23L948.02 697.23L943.12 705.83Z"/>
<path d="M947.94 709.62L957.74 709.62L952.84 718.22Z"/>
<path d="M957.67 689.52L967.47 689.52L962.57 698.12Z"/>
<path d="M967.4 691.96L977.2 691.96L972.3 700.55Z"/>
<path d="M977.13 726.26L986.93 726.26L982.03 734.86Z"/>
<path d="M986.86 703.93L996.66 703.93L991.76 712.53Z"/>
<path d="M996.58 720.17L1006.38 720.17L1001.48 728.77Z"/>
<path d="M1006.31 738.24L1016.11 738.24L1011.21 746.84Z"/>
<path d="M1016.04 733.98L1025.84 733.98L1020.94 742.58Z"/>
<path d="M1025.77 709.62L1035.57 709.62L1030.67 718.22Z"/>
<path d="M1035.5 711.04L1045.3 711.04L1040.4 719.64Z"/>
<path d="M1045.22 687.49L1055.02 687.49L1050.12 696.09Z"/>
<path d="M1054.95 685.46L1064.75 685.46L1059.85 694.06Z"/>
<path d="M1064.68 736.21L1074.48 736.21L1069.58 744.81Z"/>
<path d="M1074.41 691.96L1084.21 691.96L1079.31 700.55Z"/>
<path d="M1084.14 687.49L1093.94 687.49L1089.04 696.09Z"/>
<path d="M1093.86 701.9L1103.66 701.9L1098.76 710.5Z"/>
<path d="M1103.59 695.2L1113.39 695.2L1108.49 703.8Z"/>
<path d="M1113.32 683.43L1123.12 683.43L1118.22 692.03Z"/>
<path d="M1123.05 701.9L1132.85 701.9L1127.95 710.5Z"/>
<path d="M1132.78 701.9L1142.58 701.9L1137.68 710.5Z"/>
<path d="M1142.5 746.36L1152.3 746.36L1147.4 754.96Z"/>
<path d="M1152.23 707.38L1162.03 707.38L1157.13 715.98Z"/>
<path d="M1161.96 699.47L1171.76 699.47L1166.86 708.07Z"/>
<rect x="735.13" y="632.49" width="7.4" height="7.4"/>
<rect x="744.86" y="653.19" width="7.4" height="7.4"/>
<rect x="754.58" y="626.4" width="7.4" height="7.4"/>
<rect x="764.31" y="662.74" width="7.4" height="7.4"/>
<rect x="774.04" y="673.29" width="7.4" height="7.4"/>
<rect x="783.77" y="645.28" width="7.4" height="7.4"/>
<rect x="793.5" y="660.7" width="7.4" height="7.4"/>
<rect x="803.22" y="647.1" width="7.4" height="7.4"/>
<rect x="812.95" y="659.08" width="7.4" height="7.4"/>
<rect x="822.68" y="659.08" width="7.4" height="7.4"/>
<rect x="832.41" y="667.4" width="7.4" height="7.4"/>
<rect x="842.14" y="770.93" width="7.4" height="7.4"/>
<rect x="851.86" y="651.16" width="7.4" height="7.4"/>
<rect x="861.59" y="660.7" width="7.4" height="7.4"/>
<rect x="871.32" y="660.7" width="7.4" height="7.4"/>
<rect x="881.05" y="676.94" width="7.4" height="7.4"/>
<rect x="890.78" y="620.31" width="7.4" height="7.4"/>
<rect x="900.5" y="653.19" width="7.4" height="7.4"/>
<rect x="910.23" y="709.63" width="7.4" height="7.4"/>
<rect x="919.96" y="626.4" width="7.4" height="7.4"/>
<rect x="929.69" y="616.65" width="7.4" height="7.4"/>
<rect x="939.42" y="612.39" width="7.4" height="7.4"/>
<rect x="949.14" y="622.34" width="7.4" height="7.4"/>
<rect x="958.87" y="632.49" width="7.4" height="7.4"/>
<rect x="968.6" y="636.55" width="7.4" height="7.4"/>
<rect x="978.33" y="622.34" width="7.4" height="7.4"/>
<rect x="988.06" y="604.27" width="7.4" height="7.4"/>
<rect x="997.78" y="614.22" width="7.4" height="7.4"/>
<rect x="1007.51" y="632.89" width="7.4" height="7.4"/>
<rect x="1017.24" y="650.76" width="7.4" height="7.4"/>
<rect x="1026.97" y="693.59" width="7.4" height="7.4"/>
<rect x="1036.7" y="638.58" width="7.4" height="7.4"/>
<rect x="1046.42" y="612.39" width="7.4" height="7.4"/>
<rect x="1056.15" y="585.6" width="7.4" height="7.4"/>
<rect x="1065.88" y="719.98" width="7.4" height="7.4"/>
<rect x="1075.61" y="641.01" width="7.4" height="7.4"/>
<rect x="1085.34" y="597.78" width="7.4" height="7.4"/>
<rect x="1095.06" y="614.22" width="7.4" height="7.4"/>
<rect x="1104.79" y="604.27" width="7.4" height="7.4"/>
<rect x="1114.52" y="618.68" width="7.4" height="7.4"/>
<rect x="1124.25" y="604.27" width="7.4" height="7.4"/>
</g>
<text x="710.65" y="988.9" font-size="24.9" text-anchor="end">600</text>
<text x="710.65" y="582.9" font-size="24.9" text-anchor="end">800</text>
<text x="827" y="638" font-size="25.4" text-anchor="middle">(1#-A)</text>
<text x="1010" y="600" font-size="25.4" text-anchor="middle">(2#-A)</text>
<text x="1020" y="769" font-size="25.4" text-anchor="middle">(2#-B)</text>
<text x="795" y="782" font-size="25.4" text-anchor="middle">(1#-B)</text>
<path d="M1116.2 788.5h13M1140.5 788.5h13" stroke="#231f20" stroke-width="1.3" fill="none"/>
<g fill="#231f20">
<rect x="1131" y="784.7" width="7.6" height="7.6"/>
<path d="M1130.7 813.3L1140.3 813.3L1135.5 821.9Z"/>
</g>
<path d="M1116.2 816h9.6M1140.7 816h10.2" stroke="#231f20" stroke-width="1.3" fill="none"/>
<text x="1157.2" y="797.7" font-size="25" text-anchor="start">热轧</text>
<text x="1157.2" y="824.9" font-size="25" text-anchor="start">冷轧</text>
<text x="960.6" y="1040.2" font-size="25.4" text-anchor="middle"><tspan font-size="25.5">拉伸数量</tspan>/<tspan font-size="25.5">个</tspan></text>
<text x="948.8" y="1073.5" font-size="25.4" text-anchor="middle">(d) <tspan font-size="25.5">高温</tspan></text>
<text transform="translate(660.5 788) rotate(-90)" font-size="25.4" text-anchor="middle"><tspan font-size="25.5">抗拉强度</tspan>/MPa</text>
<g font-family='"Liberation Sans", "Noto Sans CJK SC", sans-serif' font-size="27" font-weight="500" fill="#0d0d0d">
<text x="332" y="1149.6">图</text>
<text x="366.6" y="1149.2" font-family='"Liberation Serif", "Noto Serif CJK SC", serif' font-weight="700" font-size="27">3</text>
<text x="410.6" y="1149.6" letter-spacing="2.3">不同轧制工艺横向拉伸样品的力学性能</text>
</g>
<text id="cap2" x="69" y="1193.6" fill="#0d0d0d" font-size="27" font-weight="700" letter-spacing="0.68" xml:space="preserve">Fig.3    Mechanical properties of transverse tensile samples with different rolling processes</text>
</svg>
</body>
</html>
